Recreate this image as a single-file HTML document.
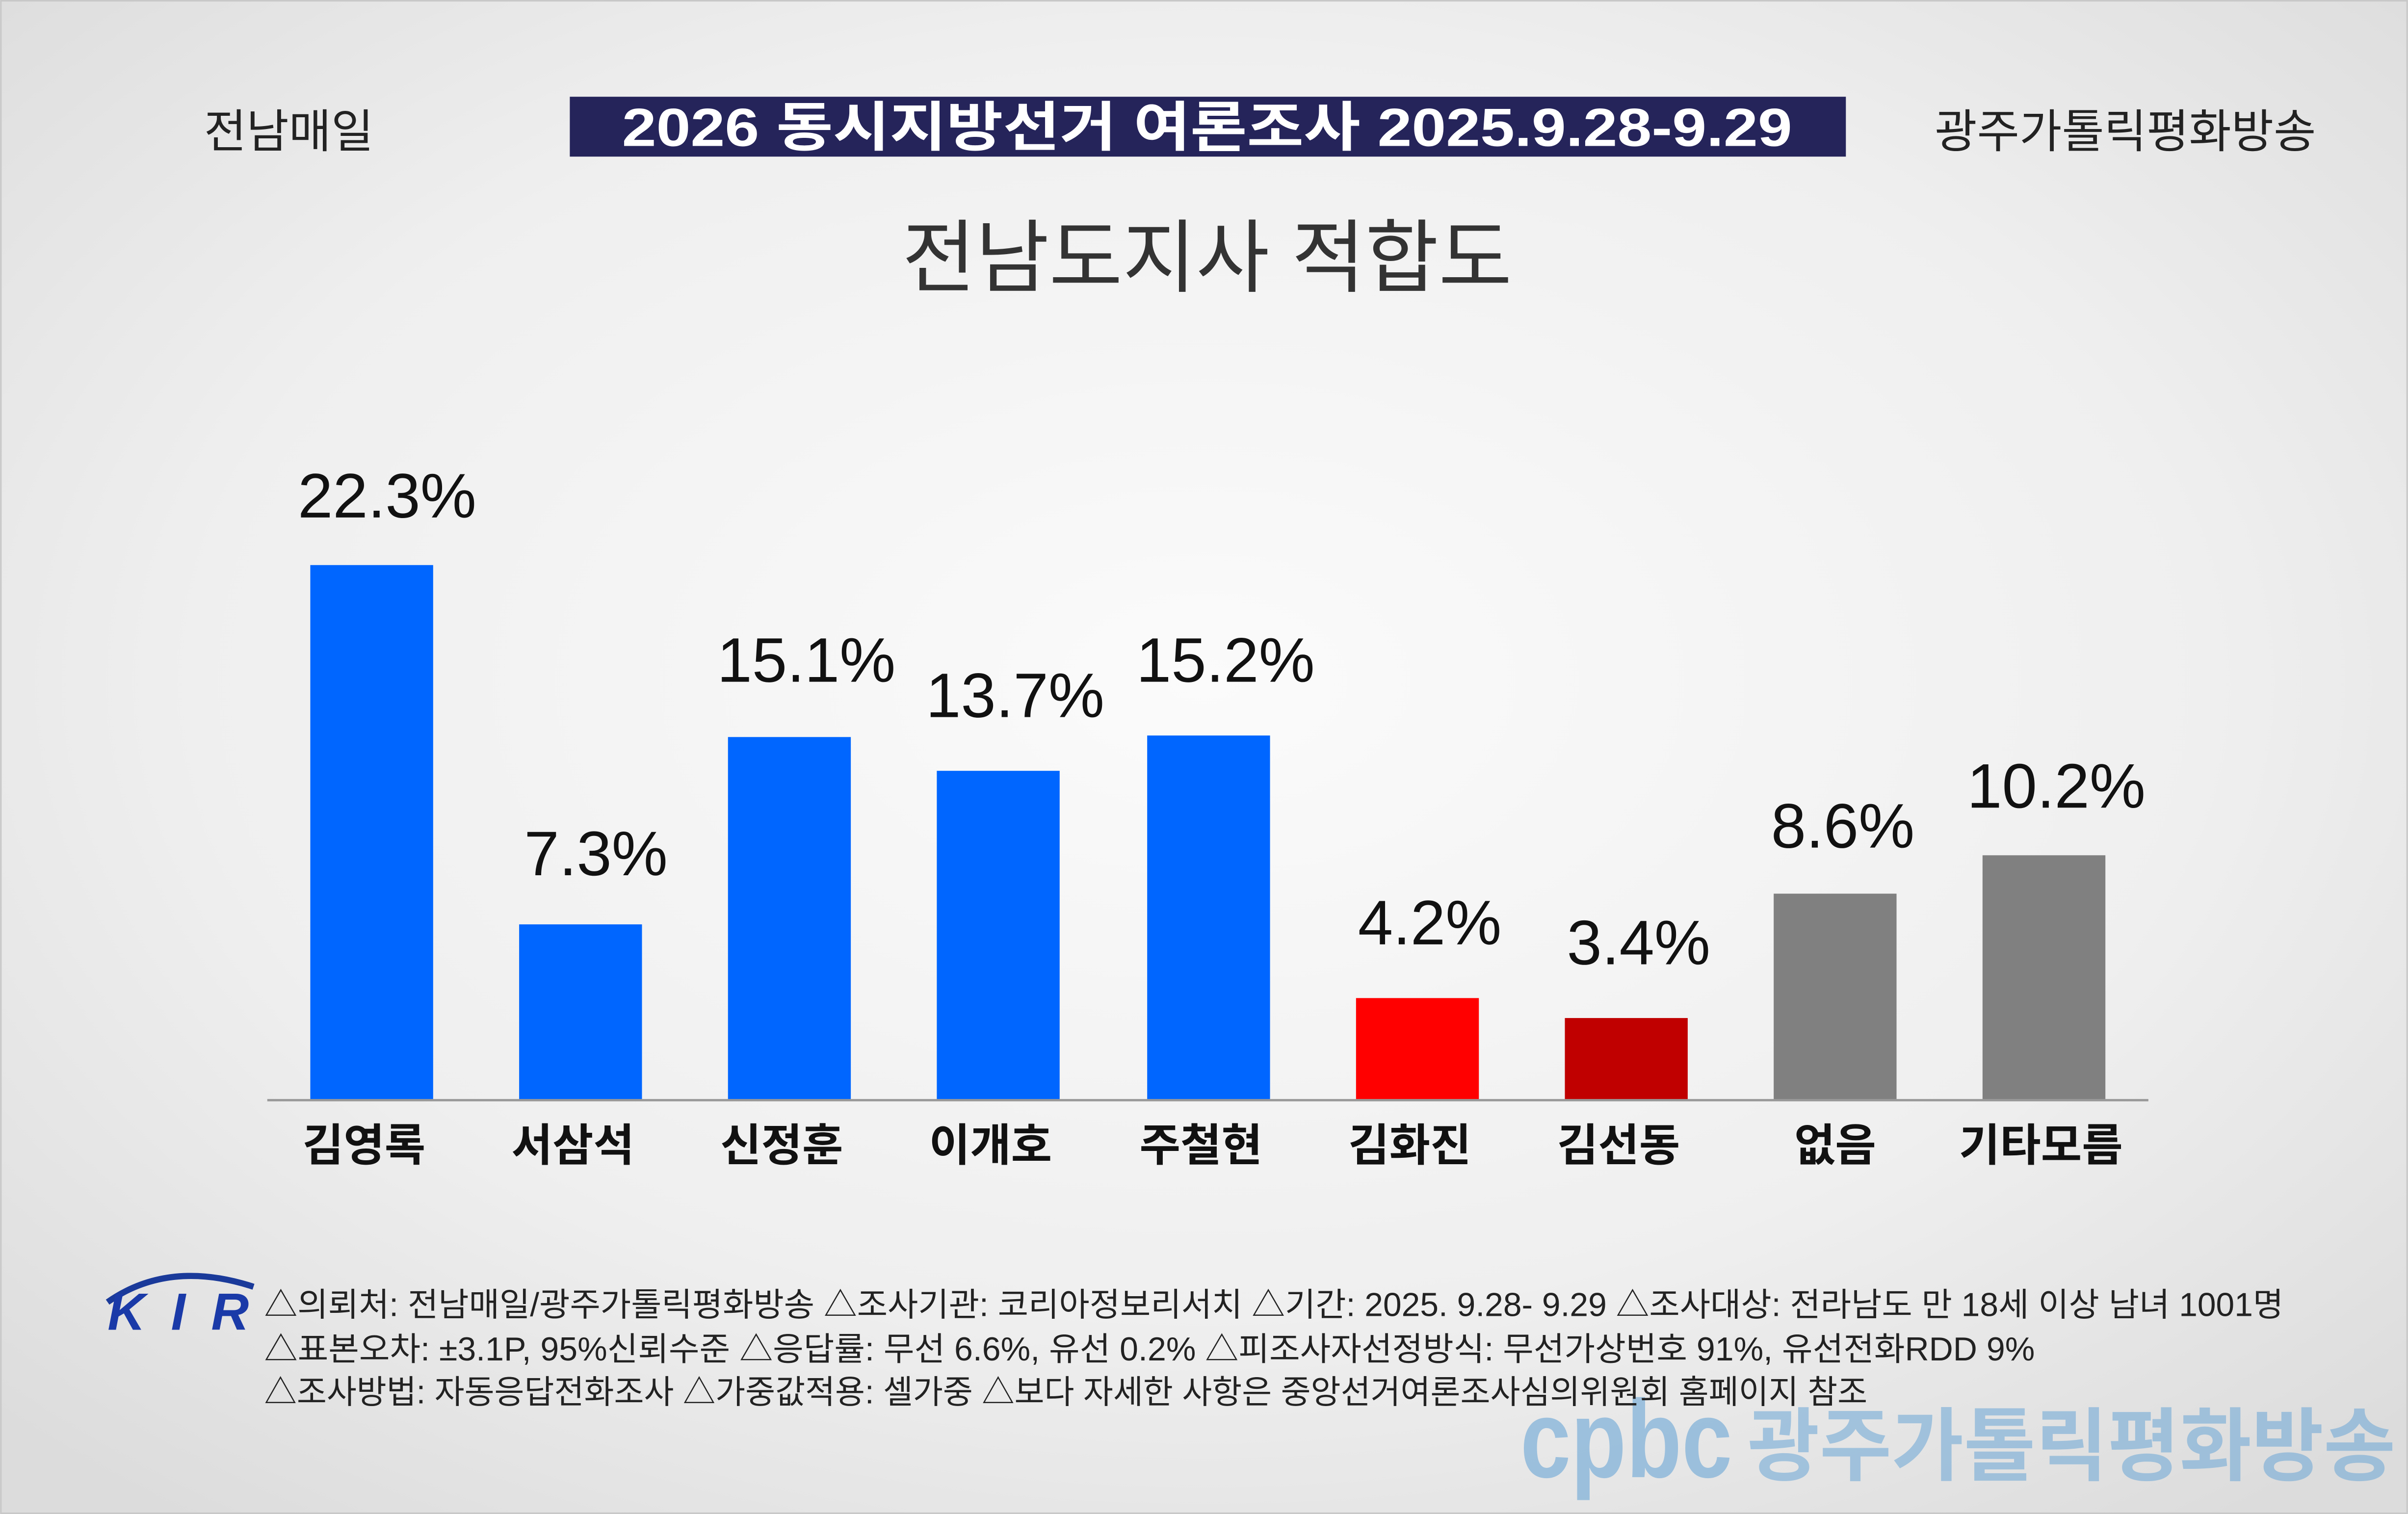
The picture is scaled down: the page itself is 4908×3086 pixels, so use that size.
<!DOCTYPE html>
<html><head><meta charset="utf-8">
<style>
html,body{margin:0;padding:0;background:#eee;}
svg{display:block;}
text{font-family:"Liberation Sans","Noto Sans CJK KR","NanumGothic",sans-serif;}
</style></head>
<body>
<svg width="4908" height="3086" viewBox="0 0 1568 986" xmlns="http://www.w3.org/2000/svg">
<defs>
<radialGradient id="bg" cx="50%" cy="45%" r="70%">
<stop offset="0" stop-color="#fbfbfb"/>
<stop offset="0.6" stop-color="#efefef"/>
<stop offset="1" stop-color="#dcdcdc"/>
</radialGradient>
</defs>
<rect x="0" y="0" width="1568" height="986" fill="url(#bg)"/>
<rect x="0.5" y="0.5" width="1567" height="985" fill="none" stroke="#c8c8c8" stroke-width="1"/>

<text x="188" y="96" font-size="30" fill="#222" text-anchor="middle">전남매일</text>
<rect x="371" y="63" width="831" height="39" fill="#25245a"/>
<text x="405" y="95" font-size="35" font-weight="bold" fill="#fff" textLength="762" lengthAdjust="spacingAndGlyphs">2026 동시지방선거 여론조사 2025.9.28-9.29</text>
<text x="1384" y="96" font-size="30" fill="#222" text-anchor="middle">광주가톨릭평화방송</text>

<text x="786" y="186" font-size="52" fill="#333" text-anchor="middle">전남도지사 적합도</text>

<g>
<rect x="202" y="368" width="80" height="348" fill="#0066ff"/>
<rect x="338" y="602" width="80" height="114" fill="#0066ff"/>
<rect x="474" y="480" width="80" height="236" fill="#0066ff"/>
<rect x="610" y="502" width="80" height="214" fill="#0066ff"/>
<rect x="747" y="479" width="80" height="237" fill="#0066ff"/>
<rect x="883" y="650" width="80" height="66" fill="#ff0000"/>
<rect x="1019" y="663" width="80" height="53" fill="#c00000"/>
<rect x="1155" y="582" width="80" height="134" fill="#808080"/>
<rect x="1291" y="557" width="80" height="159" fill="#808080"/>
</g>
<line x1="174" y1="716.5" x2="1399" y2="716.5" stroke="#999" stroke-width="1.5"/>

<g font-size="41" fill="#111" text-anchor="middle" font-weight="500">
<text x="252" y="337">22.3%</text>
<text x="388" y="570">7.3%</text>
<text x="525" y="444">15.1%</text>
<text x="661" y="467">13.7%</text>
<text x="798" y="444">15.2%</text>
<text x="931" y="615">4.2%</text>
<text x="1067" y="628">3.4%</text>
<text x="1200" y="552">8.6%</text>
<text x="1339" y="526">10.2%</text>
</g>

<g font-size="29" font-weight="bold" fill="#111" text-anchor="middle">
<text x="237" y="756">김영록</text>
<text x="373" y="756">서삼석</text>
<text x="509" y="756">신정훈</text>
<text x="645" y="756">이개호</text>
<text x="782" y="756">주철현</text>
<text x="918" y="756">김화진</text>
<text x="1054" y="756">김선동</text>
<text x="1195" y="756">없음</text>
<text x="1329" y="756">기타모름</text>
</g>

<g>
<path d="M70 848 Q110 820 165 838" fill="none" stroke="#1a3a9a" stroke-width="4"/>
<text x="70" y="866" font-size="34" font-weight="bold" font-style="italic" fill="#1a3aa8" textLength="92">KIR</text>
</g>

<text x="990" y="962" font-size="72" font-weight="bold" fill="#6aa6d6" opacity="0.6" textLength="138" lengthAdjust="spacingAndGlyphs">cpbc</text>
<text x="1138" y="960" font-size="52" font-weight="bold" fill="#6aa6d6" opacity="0.55" textLength="422" lengthAdjust="spacingAndGlyphs">광주가톨릭평화방송</text>

<g font-size="21.5" fill="#222">
<text x="172" y="857" textLength="1315" lengthAdjust="spacingAndGlyphs">△의뢰처: 전남매일/광주가톨릭평화방송 △조사기관: 코리아정보리서치 △기간: 2025. 9.28- 9.29 △조사대상: 전라남도 만 18세 이상 남녀 1001명</text>
<text x="172" y="886" textLength="1153" lengthAdjust="spacingAndGlyphs">△표본오차: ±3.1P, 95%신뢰수준 △응답률: 무선 6.6%, 유선 0.2% △피조사자선정방식: 무선가상번호 91%, 유선전화RDD 9%</text>
<text x="172" y="914" textLength="1044" lengthAdjust="spacingAndGlyphs">△조사방법: 자동응답전화조사 △가중값적용: 셀가중 △보다 자세한 사항은 중앙선거여론조사심의위원회 홈페이지 참조</text>
</g>
</svg>
</body></html>
